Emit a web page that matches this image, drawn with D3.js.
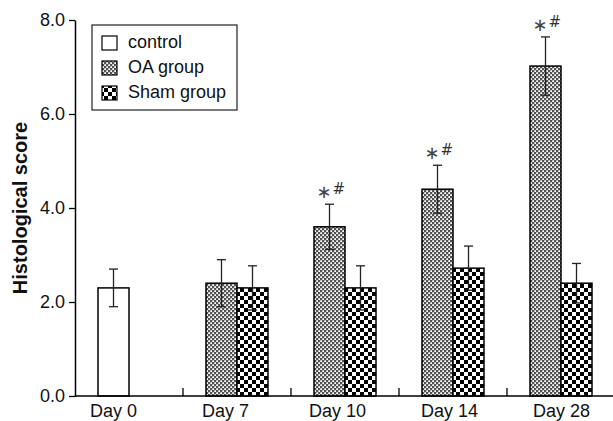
<!DOCTYPE html>
<html>
<head>
    <title>Histological score</title>
    <script src="https://d3js.org/d3.v7.min.js"></script>
    <style>
        body { margin: 0; background: #fff; }
        svg { font-family: Arial, "Liberation Sans", sans-serif; }
    </style>
</head>
<body>
    <svg width="613" height="421"></svg>
    <script>
        // data
        const days = ["Day 0", "Day 7", "Day 10", "Day 14", "Day 28"];
        const controlMean = [2.3, null, null, null, null];
        const controlErr  = [0.4, null, null, null, null];
        const oaMean  = [null, 2.4, 3.6, 4.4, 7.02];
        const oaErr   = [null, 0.5, 0.48, 0.51, 0.62];
        const shamMean = [null, 2.3, 2.3, 2.72, 2.4];
        const shamErr  = [null, 0.47, 0.47, 0.47, 0.42];
        const marked = [false, false, true, true, true];
        const yTicks = [0, 2, 4, 6, 8];

        const svg = d3.select("svg");
        const plotLeft = 75, plotRight = 615, plotTop = 20, plotBottom = 396;

        const y = d3.scaleLinear().domain([0, 8]).range([plotBottom, plotTop]);
        const x = d3.scaleBand().domain(days).range([plotLeft, plotRight]);
        // the day labels are spaced a little wider than the groups
        const xLabel = d3.scaleBand().domain(days).range([57.5, 617.5]);
        const barW = 31;

        // patterns
        const defs = svg.append("defs");
        const oa = defs.append("pattern").attr("id", "oa")
            .attr("width", 4).attr("height", 4).attr("patternUnits", "userSpaceOnUse");
        oa.append("rect").attr("width", 4).attr("height", 4).attr("fill", "#333");
        oa.append("rect").attr("x", 0.2).attr("y", 0.2).attr("width", 1.8).attr("height", 1.8).attr("fill", "#fff");
        oa.append("rect").attr("x", 2.2).attr("y", 2.2).attr("width", 1.8).attr("height", 1.8).attr("fill", "#fff");
        oa.append("rect").attr("x", 2.5).attr("y", 0.5).attr("width", 1.0).attr("height", 1.0).attr("fill", "#aaa");
        oa.append("rect").attr("x", 0.5).attr("y", 2.5).attr("width", 1.0).attr("height", 1.0).attr("fill", "#aaa");

        const sham = defs.append("pattern").attr("id", "sham")
            .attr("width", 8).attr("height", 8).attr("patternUnits", "userSpaceOnUse");
        sham.append("rect").attr("width", 8).attr("height", 8).attr("fill", "#fff");
        sham.append("rect").attr("width", 4).attr("height", 4).attr("fill", "#000");
        sham.append("rect").attr("x", 4).attr("y", 4).attr("width", 4).attr("height", 4).attr("fill", "#000");

        // bars
        const series = [
            {mean: controlMean, err: controlErr, fill: "#fff", slot: 0},
            {mean: oaMean, err: oaErr, fill: "url(#oa)", slot: 0},
            {mean: shamMean, err: shamErr, fill: "url(#sham)", slot: 1}
        ];
        const barX = (day, slot) => x(day) + x.bandwidth() / 2 - barW + slot * barW;

        series.forEach(s => {
            const rows = days.map((d, i) => ({day: d, v: s.mean[i], e: s.err[i]})).filter(r => r.v != null);
            svg.append("g").selectAll("rect").data(rows).join("rect")
                .attr("x", r => barX(r.day, s.slot))
                .attr("y", r => y(r.v))
                .attr("width", barW)
                .attr("height", r => y(0) - y(r.v))
                .attr("fill", s.fill)
                .attr("stroke", "#000")
                .attr("stroke-width", 1.5);

            const eb = svg.append("g").attr("stroke", "#222").attr("stroke-width", 1.3);
            rows.forEach(r => {
                const cx = barX(r.day, s.slot) + barW / 2;
                eb.append("line").attr("x1", cx).attr("x2", cx).attr("y1", y(r.v - r.e)).attr("y2", y(r.v + r.e));
                [r.v - r.e, r.v + r.e].forEach(v =>
                    eb.append("line").attr("x1", cx - 4.5).attr("x2", cx + 4.5).attr("y1", y(v)).attr("y2", y(v)));
            });
        });

        // significance marks
        days.forEach((d, i) => {
            if (!marked[i]) return;
            const cx = barX(d, 0) + barW / 2;
            const yy = y(oaMean[i] + oaErr[i]);
            svg.append("text")
                .attr("x", cx + 2).attr("y", yy - 6)
                .attr("text-anchor", "end")
                .style("font-family", "'DejaVu Sans', sans-serif")
                .style("font-size", "18px").style("fill", "#444")
                .text("\u2217");
            svg.append("text")
                .attr("x", cx + 3).attr("y", yy - 10)
                .style("font-family", "'DejaVu Sans', sans-serif")
                .style("font-size", "15px").style("fill", "#333")
                .text("#");
        });

        // y axis
        const yAxis = svg.append("g")
            .attr("transform", `translate(${plotLeft},0)`)
            .call(d3.axisLeft(y).tickValues(yTicks).tickFormat(d3.format(".1f")).tickSize(6).tickSizeOuter(0));
        yAxis.select(".domain").attr("stroke-width", 1.5);
        yAxis.selectAll(".tick line").attr("stroke-width", 1.3);
        yAxis.selectAll(".tick text").style("font-size", "18px").style("font-family", "Arial, 'Liberation Sans', sans-serif")
            .attr("fill", "#111").attr("dx", -1);

        // x axis
        const xAxis = svg.append("g").attr("transform", `translate(0,${plotBottom})`);
        xAxis.append("line").attr("x1", plotLeft).attr("x2", 613).attr("stroke", "#000").attr("stroke-width", 1.5);
        xAxis.selectAll(".sep").data(days.slice(1)).join("line")
            .attr("x1", d => x(d)).attr("x2", d => x(d))
            .attr("y1", 0).attr("y2", -8)
            .attr("stroke", "#000").attr("stroke-width", 1.3);
        xAxis.selectAll(".lab").data(days).join("text")
            .attr("x", d => xLabel(d) + xLabel.bandwidth() / 2)
            .attr("y", 21)
            .attr("text-anchor", "middle")
            .style("font-size", "18px").attr("fill", "#111")
            .text(d => d);

        // y title
        svg.append("text")
            .attr("transform", "translate(27,208) rotate(-90)")
            .attr("text-anchor", "middle")
            .style("font-size", "20px").style("font-weight", "bold").attr("fill", "#111")
            .text("Histological score");

        // legend
        const legendNames = ["control", "OA group", "Sham group"];
        const legendFills = ["#fff", "url(#oa)", "url(#sham)"];
        const lg = svg.append("g");
        lg.append("rect").attr("x", 92).attr("y", 25).attr("width", 145).attr("height", 85)
            .attr("fill", "#fff").attr("stroke", "#222").attr("stroke-width", 1.2);
        legendNames.forEach((n, i) => {
            const cy = 43 + i * 25;
            lg.append("rect").attr("x", 102).attr("y", cy - 7).attr("width", 15).attr("height", 14)
                .attr("fill", legendFills[i]).attr("stroke", "#000").attr("stroke-width", 1.2);
            lg.append("text").attr("x", 128).attr("y", cy + 5)
                .style("font-size", "18px").attr("fill", "#111").text(n);
        });
    </script>
</body>
</html>
